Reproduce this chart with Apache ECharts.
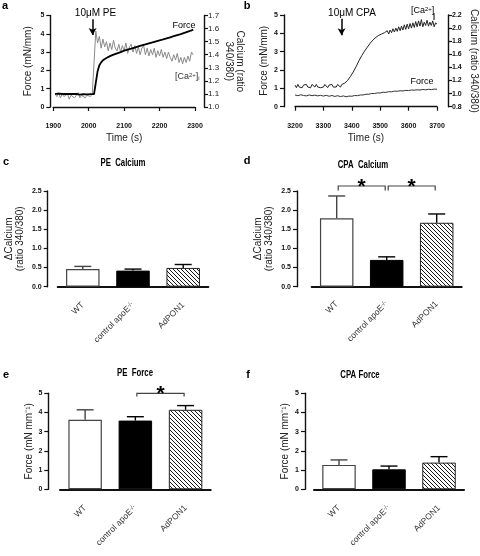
<!DOCTYPE html>
<html><head><meta charset="utf-8">
<script src="https://cdn.jsdelivr.net/npm/echarts@6/dist/echarts.min.js"></script>
<style>html,body{margin:0;padding:0;background:#fff}#c{width:480px;height:556px}</style>
</head><body><div id="c"></div>
<script>
// ---------------- DATA ----------------
// Panel a: PE trace
const timeA = [1905,1910,1915,1920,1925,1930,1935,1940,1945,1950,
  1955,1960,1965,1970,1975,1980,1985,1990,1995,2000,
  2005,2010,2015,2020,2025,2030,2035,2040,2045,2050,
  2055,2060,2065,2070,2075,2080,2085,2090,2095,2100,
  2105,2110,2115,2120,2125,2130,2135,2140,2145,2150,
  2155,2160,2165,2170,2175,2180,2185,2190,2195,2200,
  2205,2210,2215,2220,2225,2230,2235,2240,2245,2250,
  2255,2260,2265,2270,2275,2280,2285,2290,2295];
const forceA = [0.72,0.70,0.73,0.69,0.71,0.70,0.72,0.68,0.71,0.70,
  0.72,0.69,0.71,0.70,0.68,0.71,0.70,0.72,0.69,0.71,
  0.70,0.72,0.71,0.76,1.95,2.28,2.44,2.55,2.62,2.68,
  2.73,2.78,2.82,2.86,2.89,2.93,2.96,3.00,3.04,3.08,
  3.10,3.14,3.17,3.19,3.23,3.25,3.29,3.31,3.35,3.37,
  3.40,3.42,3.46,3.48,3.51,3.53,3.56,3.59,3.61,3.64,
  3.67,3.69,3.73,3.75,3.79,3.81,3.84,3.87,3.90,3.93,
  3.96,3.98,4.02,4.05,4.09,4.12,4.15,4.19,4.23];
const calciumA = [1.10,1.08,1.11,1.07,1.10,1.08,1.07,1.10,1.06,1.09,
  1.10,1.07,1.09,1.11,1.07,1.09,1.10,1.07,1.09,1.10,
  1.08,1.10,1.11,1.58,1.49,1.54,1.45,1.52,1.46,1.50,
  1.43,1.49,1.44,1.51,1.45,1.43,1.48,1.42,1.47,1.43,
  1.49,1.41,1.46,1.48,1.42,1.47,1.41,1.46,1.40,1.45,
  1.47,1.40,1.45,1.39,1.44,1.40,1.45,1.38,1.43,1.39,
  1.44,1.38,1.42,1.37,1.42,1.38,1.35,1.40,1.36,1.41,
  1.34,1.38,1.33,1.38,1.34,1.39,1.35,1.42,1.40];
const peAddTime = 2011;

// Panel b: CPA trace
const timeBCalcium = [3200,3205,3210,3215,3220,3225,3230,3235,3240,3245,
  3250,3255,3260,3265,3270,3275,3280,3285,3290,3295,
  3300,3305,3310,3315,3320,3325,3330,3335,3340,3345,
  3350,3355,3360,3365,3370,3375,3380,3385,3390,3395,
  3400,3405,3410,3415,3420,3425,3430,3435,3440,3445,
  3450,3455,3460,3465,3470,3475,3480,3485,3490,3495,
  3500,3505,3510,3515,3520,3525,3530,3535,3540,3545,
  3550,3555,3560,3565,3570,3575,3580,3585,3590,3595,
  3600,3605,3610,3615,3620,3625,3630,3635,3640,3645,
  3650,3655,3660,3665,3670,3675,3680,3685,3690,3695,3700];
const calciumB = [1.13,1.09,1.14,1.10,1.12,1.09,1.13,1.10,1.14,1.10,
  1.13,1.09,1.14,1.11,1.10,1.14,1.10,1.13,1.09,1.12,
  1.10,1.14,1.11,1.09,1.13,1.10,1.14,1.10,1.12,1.10,
  1.14,1.11,1.10,1.14,1.14,1.16,1.17,1.20,1.22,1.26,
  1.28,1.33,1.36,1.41,1.44,1.50,1.53,1.58,1.61,1.65,
  1.67,1.71,1.73,1.77,1.78,1.82,1.82,1.86,1.84,1.89,
  1.86,1.91,1.88,1.93,1.90,1.96,1.91,1.97,1.93,1.99,
  1.94,2.00,1.95,2.02,1.96,2.03,1.97,2.05,1.98,2.06,
  1.99,2.07,2.00,2.08,2.01,2.10,2.02,2.11,2.03,2.13,
  2.02,2.09,2.04,2.12,2.03,2.09,2.04,2.11,2.02,2.08,2.06];
const timeBForce = [3200,3210,3220,3230,3240,3250,3260,3270,3280,3290,
  3300,3310,3320,3330,3340,3350,3360,3370,3380,3390,
  3400,3410,3420,3430,3440,3450,3460,3470,3480,3490,
  3500,3510,3520,3530,3540,3550,3560,3570,3580,3590,
  3600,3610,3620,3630,3640,3650,3660,3670,3680,3690,3700];
const forceB = [0.64,0.60,0.65,0.61,0.59,0.64,0.60,0.63,0.59,0.62,
  0.58,0.62,0.57,0.61,0.56,0.60,0.55,0.59,0.54,0.58,
  0.57,0.61,0.60,0.64,0.64,0.68,0.68,0.72,0.72,0.75,
  0.75,0.79,0.78,0.82,0.81,0.85,0.84,0.87,0.86,0.89,
  0.88,0.91,0.90,0.92,0.91,0.94,0.92,0.95,0.93,0.96,0.95];
const cpaAddTime = 3364;

// Bar panels
const groups = ['WT', 'control apoE-/-', 'AdPON1'];
const peCalciumMean = [0.46, 0.42, 0.49];
const peCalciumErr  = [0.07, 0.04, 0.09];
const cpaCalciumMean = [1.79, 0.70, 1.67];
const cpaCalciumErr  = [0.58, 0.08, 0.23];
const peForceMean = [3.62, 3.58, 4.14];
const peForceErr  = [0.52, 0.20, 0.22];
const cpaForceMean = [1.27, 1.04, 1.39];
const cpaForceErr  = [0.26, 0.17, 0.31];
// significance brackets: [fromGroup, toGroup, bracketTop, legBottom]
const cpaCalciumSig = [[0, 1, 2.63, 2.51], [1, 2, 2.63, 2.51]];
const peForceSig = [[1, 2, 5.0, 4.83]];

// ---------------- STYLE ----------------
const FONT = '"Liberation Sans", Arial, Helvetica, sans-serif';
const INK = '#111';

function hatch() {
  const s = 4, c = document.createElement('canvas');
  c.width = s; c.height = s;
  const g = c.getContext('2d');
  g.fillStyle = '#fff'; g.fillRect(0, 0, s, s);
  g.strokeStyle = '#000'; g.lineWidth = 0.9;
  g.beginPath();
  g.moveTo(-1, -1); g.lineTo(s + 1, s + 1);
  g.moveTo(-1, s - 1); g.lineTo(1, s + 1);
  g.moveTo(s - 1, -1); g.lineTo(s + 1, 1);
  g.stroke();
  return c;
}
const HATCH = { image: hatch(), repeat: 'repeat' };
const barStyles = [
  { color: '#fff', borderColor: '#444', borderWidth: 1.2 },
  { color: '#000', borderColor: '#000', borderWidth: 1 },
  { color: HATCH, borderColor: '#222', borderWidth: 1 }
];

function valueAxis(o) {
  return Object.assign({
    type: 'value', splitLine: { show: false },
    axisLine: { show: true, lineStyle: { color: INK, width: 1.4 } },
    axisTick: { show: true, length: 4, lineStyle: { color: INK, width: 1.2 } },
    axisLabel: { fontFamily: FONT, fontSize: 7, fontWeight: 'bold', color: INK, margin: 6, formatter: v => String(v) },
    nameLocation: 'middle',
    nameTextStyle: { fontFamily: FONT, fontSize: 10, color: '#222', lineHeight: 11 }
  }, o);
}
function catAxis(grid, offset) {
  return {
    type: 'category', gridIndex: grid, data: groups, offset: offset,
    axisLine: { show: true, lineStyle: { color: INK, width: 2 } },
    axisTick: { show: false },
    axisLabel: {
      interval: 0, rotate: 45, margin: 6, fontFamily: FONT, fontSize: 8.5, color: '#333',
      formatter: v => v.endsWith('-/-') ? v.slice(0, -3) + '{s|-/-}' : v,
      rich: { s: { fontSize: 6, verticalAlign: 'top', fontFamily: FONT, color: '#333' } }
    }
  };
}
function barSeries(xi, yi, means) {
  return {
    type: 'bar', xAxisIndex: xi, yAxisIndex: yi, barWidth: 33.5, silent: true,
    data: means.map((m, i) => ({ value: m, itemStyle: barStyles[i] }))
  };
}
const errColors = ['#444', '#000', '#000'];
function errSeries(xi, yi, means, errs) {
  return {
    type: 'custom', xAxisIndex: xi, yAxisIndex: yi, silent: true, z: 5,
    data: means.map((m, i) => [i, m, errs[i]]),
    renderItem: (p, api) => {
      const i = api.value(0), m = api.value(1), e = api.value(2);
      const a = api.coord([i, m]), b = api.coord([i, m + e]);
      const st = { stroke: errColors[p.dataIndex], lineWidth: 1.4 };
      return { type: 'group', children: [
        { type: 'line', shape: { x1: a[0], y1: a[1], x2: b[0], y2: b[1] }, style: st },
        { type: 'line', shape: { x1: b[0] - 8.5, y1: b[1], x2: b[0] + 8.5, y2: b[1] }, style: st }
      ] };
    }
  };
}
function sigSeries(xi, yi, sig) {
  return {
    type: 'custom', xAxisIndex: xi, yAxisIndex: yi, silent: true, z: 6,
    data: sig,
    renderItem: (p, api) => {
      const a = api.coord([api.value(0), api.value(2)]);
      const b = api.coord([api.value(1), api.value(2)]);
      const l = api.coord([api.value(0), api.value(3)]);
      const x1 = a[0] + 1.5, x2 = b[0] - 1.5, y = a[1], yl = l[1];
      return { type: 'group', children: [
        { type: 'polyline', shape: { points: [[x1, yl], [x1, y], [x2, y], [x2, yl]] },
          style: { stroke: '#444', lineWidth: 1.2, fill: null } },
        { type: 'text', x: (x1 + x2) / 2, y: y + 1,
          style: { text: '*', font: 'bold 21px ' + FONT, fill: '#000', align: 'center', verticalAlign: 'middle' } }
      ] };
    }
  };
}
function traceSeries(xi, yi, t, v, color, w, z) {
  return {
    type: 'line', xAxisIndex: xi, yAxisIndex: yi, showSymbol: false, symbol: 'none',
    silent: true, z: z, data: t.map((x, i) => [x, v[i]]),
    lineStyle: { color: color, width: w }
  };
}
function arrow(time, y1, y2) {
  return {
    silent: true, symbol: ['none', 'arrow'], symbolSize: [6, 7],
    lineStyle: { color: '#000', width: 1.5, type: 'solid' },
    label: { show: false },
    data: [[{ coord: [time, y1] }, { coord: [time, y2] }]]
  };
}
function txt(x, y, text, font, extra) {
  return Object.assign({ type: 'text', x: x, y: y, silent: true,
    style: Object.assign({ text: text, font: font, fill: '#000', align: 'center', verticalAlign: 'middle' }, (extra && extra.style) || {}) },
    extra && extra.el || {});
}

const chart = echarts.init(document.getElementById('c'), null, { renderer: 'canvas', width: 480, height: 556 });

const option = {
  animation: false,
  backgroundColor: '#fff',
  grid: [
    { left: 53.3, top: 15.5, width: 141.7, height: 91.5 },   // a
    { left: 295, top: 15, width: 142, height: 91.7 },        // b
    { left: 57.7, top: 191, width: 150.6, height: 95.7 },    // c
    { left: 311.7, top: 191, width: 150, height: 95.7 },     // d
    { left: 60, top: 393.3, width: 150.7, height: 96 },      // e
    { left: 314, top: 393.3, width: 150, height: 96 }        // f
  ],
  xAxis: [
    valueAxis({ gridIndex: 0, min: 1900, max: 2300, interval: 100, offset: 10,
      name: 'Time (s)', nameGap: 16 }),
    valueAxis({ gridIndex: 1, min: 3200, max: 3700, interval: 100, offset: 10,
      name: 'Time (s)', nameGap: 16 }),
    catAxis(2, 11), catAxis(3, 10), catAxis(4, 11.4), catAxis(5, 11.4)
  ],
  yAxis: [
    valueAxis({ gridIndex: 0, min: 0, max: 5, interval: 1, offset: 3,
      name: 'Force (mN/mm)', nameGap: 17 }),
    valueAxis({ gridIndex: 0, position: 'right', min: 1.0, max: 1.7, interval: 0.1, offset: 9,
      axisLabel: { fontFamily: FONT, fontSize: 8, color: '#222', margin: 4, formatter: v => v.toFixed(1) },
      name: 'Calcium (ratio\n340/380)', nameGap: 16, nameRotate: -90 }),
    valueAxis({ gridIndex: 1, min: 0, max: 5, interval: 1, offset: 11,
      name: 'Force (mN/mm)', nameGap: 13 }),
    valueAxis({ gridIndex: 1, position: 'right', min: 0.8, max: 2.2, interval: 0.2, offset: 11,
      axisLabel: { fontFamily: FONT, fontSize: 7, fontWeight: 'bold', color: INK, margin: 4, formatter: v => v.toFixed(1) },
      name: 'Calcium (ratio 340/380)', nameGap: 20, nameRotate: -90 }),
    valueAxis({ gridIndex: 2, min: 0, max: 2.5, interval: 0.5, offset: 10,
      axisLabel: { fontFamily: FONT, fontSize: 7, fontWeight: 'bold', color: INK, margin: 6, formatter: v => v.toFixed(1) },
      name: '\u0394Calcium\n(ratio 340/380)', nameGap: 22 }),
    valueAxis({ gridIndex: 3, min: 0, max: 2.5, interval: 0.5, offset: 14.7,
      axisLabel: { fontFamily: FONT, fontSize: 7, fontWeight: 'bold', color: INK, margin: 6, formatter: v => v.toFixed(1) },
      name: '\u0394Calcium\n(ratio 340/380)', nameGap: 22 }),
    valueAxis({ gridIndex: 4, min: 0, max: 5, interval: 1, offset: 11.7,
      name: 'Force (mN mm\u207B\u00B9)', nameGap: 14 }),
    valueAxis({ gridIndex: 5, min: 0, max: 5, interval: 1, offset: 9,
      name: 'Force (mN mm\u207B\u00B9)', nameGap: 14 })
  ],
  series: [
    traceSeries(0, 1, timeA, calciumA, '#8a8a8a', 1, 2),
    Object.assign(traceSeries(0, 0, timeA, forceA, '#000', 1.8, 3),
      { markLine: arrow(peAddTime, 4.8, 3.93) }),
    traceSeries(1, 3, timeBCalcium, calciumB, '#222', 1, 2),
    Object.assign(traceSeries(1, 2, timeBForce, forceB, '#333', 1, 3),
      { markLine: arrow(cpaAddTime, 4.8, 3.9) }),
    barSeries(2, 4, peCalciumMean), errSeries(2, 4, peCalciumMean, peCalciumErr),
    barSeries(3, 5, cpaCalciumMean), errSeries(3, 5, cpaCalciumMean, cpaCalciumErr),
    sigSeries(3, 5, cpaCalciumSig),
    barSeries(4, 6, peForceMean), errSeries(4, 6, peForceMean, peForceErr),
    sigSeries(4, 6, peForceSig),
    barSeries(5, 7, cpaForceMean), errSeries(5, 7, cpaForceMean, cpaForceErr)
  ],
  graphic: [
    txt(5, 6, 'a', 'bold 11px ' + FONT),
    txt(247, 6, 'b', 'bold 11px ' + FONT),
    txt(6, 162, 'c', 'bold 11px ' + FONT),
    txt(247, 161, 'd', 'bold 11px ' + FONT),
    txt(6, 375, 'e', 'bold 11px ' + FONT),
    txt(248, 375, 'f', 'bold 11px ' + FONT),
    txt(95.5, 13.5, '10\u03BCM PE', '10px ' + FONT),
    txt(352, 13, '10\u03BCM CPA', '10px ' + FONT),
    txt(123, 163, 'PE  Calcium', 'bold 10px ' + FONT, { el: { scaleX: 0.78 } }),
    txt(363, 165, 'CPA  Calcium', 'bold 10px ' + FONT, { el: { scaleX: 0.78 } }),
    txt(135, 373.5, 'PE  Force', 'bold 10px ' + FONT, { el: { scaleX: 0.78 } }),
    txt(360, 375, 'CPA Force', 'bold 10px ' + FONT, { el: { scaleX: 0.78 } }),
    txt(184, 25.5, 'Force', '9px ' + FONT),
    {
      type: 'text', x: 175, y: 77, silent: true,
      style: { text: '[Ca{sup|2+}]{sub|i}', font: '9px ' + FONT, fill: '#333', align: 'left', verticalAlign: 'middle',
        rich: { sup: { fontSize: 6, verticalAlign: 'top', fill: '#333' }, sub: { fontSize: 6, verticalAlign: 'bottom', fill: '#333' } } }
    },
    {
      type: 'text', x: 411, y: 11, silent: true,
      style: { text: '[Ca{sup|2+}]', font: '9px ' + FONT, fill: '#000', align: 'left', verticalAlign: 'middle',
        rich: { sup: { fontSize: 6, verticalAlign: 'top', fill: '#000' } } }
    },
    { type: 'line', silent: true, shape: { x1: 434, y1: 13, x2: 434, y2: 20 }, style: { stroke: '#000', lineWidth: 1 } },
    txt(422, 81.5, 'Force', '9px ' + FONT)
  ]
};
chart.setOption(option);
</script>
</body></html>
